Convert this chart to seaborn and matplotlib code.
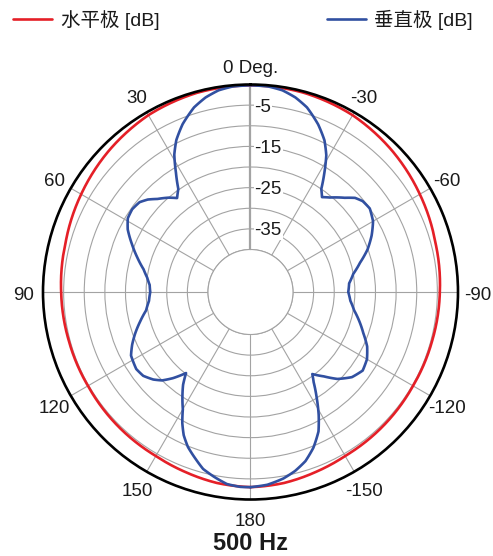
import numpy as np
import matplotlib
matplotlib.use("Agg")
import matplotlib.pyplot as plt
import matplotlib.transforms as mtransforms
from matplotlib.lines import Line2D
import seaborn as sns

# Vertical polar pattern (blue). Angles in degrees, measured from 0 Deg. at the top.
# Right half of the chart = negative angles, left half = positive angles.
V_RIGHT_ANG = [0, 5, 9, 13, 17, 22, 26, 29, 32, 34.5, 37, 40, 45, 48, 51, 55, 60, 65, 70,
               75, 80, 85, 90, 95, 100, 105, 110, 115, 120, 125, 130, 135, 139, 143, 145,
               148, 151, 154, 158, 162, 166, 170, 175, 180]
V_RIGHT_DB = [-0.2, -0.3, -0.8, -1.9, -3.5, -6.5, -9.4, -12.4, -16.6, -20.0, -21.5, -20.4,
              -18.0, -16.2, -15.3, -15.0, -16.0, -17.9, -20.1, -22.8, -25.0, -26.3, -26.6,
              -26.0, -24.8, -23.0, -21.2, -19.1, -17.7, -17.1, -18.2, -20.5, -23.2, -25.4,
              -23.6, -20.0, -16.2, -12.7, -9.6, -7.2, -5.6, -4.4, -3.4, -3.0]
V_LEFT_ANG = [0, 5, 9, 13, 17, 22, 26, 29, 32, 35, 38, 41, 45, 48, 51, 55, 59, 63, 68, 73,
              78, 82, 86, 90, 95, 100, 105, 110, 114, 118, 124, 128, 132, 135, 138, 141.5,
              144, 147, 150, 152.5, 155, 158, 162, 165, 169, 173, 177, 180]
V_LEFT_DB = [-0.2, -0.3, -0.8, -1.9, -3.5, -6.4, -9.3, -12.2, -16.2, -19.8, -21.4, -20.0,
             -18.4, -16.8, -15.7, -15.3, -15.6, -16.9, -19.3, -21.6, -23.8, -25.0, -25.8,
             -26.0, -25.6, -24.6, -22.6, -20.5, -18.9, -17.5, -16.9, -17.3, -18.6, -20.0,
             -22.2, -25.2, -22.5, -20.0, -17.5, -14.5, -12.0, -9.8, -7.6, -5.9, -4.6, -3.4,
             -3.0, -3.0]

# Horizontal polar pattern (red), read the same on both sides
H_ANG = [0, 15, 30, 45, 60, 75, 90, 105, 120, 135, 150, 160, 170, 180]
H_DB = [-0.2, -0.3, -0.8, -1.8, -2.9, -3.9, -4.4, -4.7, -4.8, -4.6, -4.4, -3.9, -3.3, -3.0]

RING_DB = [-40, -35, -30, -25, -20, -15, -10, -5, 0]
RING_LABELS = ["-5", "-15", "-25", "-35"]
SPOKE_DEG = [0, 30, 60, 90, 120, 150, 180, 210, 240, 270, 300, 330]
SPOKE_LABELS = ["0 Deg.", "30", "60", "90", "120", "150", "180",
                "-150", "-120", "-90", "-60", "-30"]

LEGEND_LABELS = ["水平极 [dB]", "垂直极 [dB]"]
TITLE = "500 Hz"

RED = "#e51f27"
BLUE = "#3150a1"
GRID = "#a3a3a3"
INK = "#1a1a1a"


def full_circle(right_ang, right_db, left_ang, left_db):
    ang = [-a for a in right_ang[::-1]] + list(left_ang[1:])
    db = list(right_db[::-1]) + list(left_db[1:])
    return np.deg2rad(ang), np.array(db)


def main():
    sns.set_style("white")
    plt.rcParams["font.family"] = ["Liberation Sans", "Noto Sans CJK SC", "DejaVu Sans"]

    fig = plt.figure(figsize=(4.93, 5.56), dpi=100)
    ax = fig.add_axes([0.0872, 0.1016, 0.8418, 0.7464], projection="polar")
    ax.set_theta_zero_location("N")
    ax.set_theta_direction(1)
    ax.set_ylim(-40, 0)
    ax.set_rorigin(-50.3)

    ax.set_xticks(np.deg2rad(SPOKE_DEG))
    ax.set_xticklabels([])
    ax.set_yticks(RING_DB)
    ax.set_yticklabels([])
    ax.grid(True, color=GRID, lw=0.8)
    ax.xaxis.get_gridlines()[0].set_linewidth(1.6)
    ax.spines["polar"].set_color("black")
    ax.spines["polar"].set_linewidth(1.9)
    ax.spines["inner"].set_color(GRID)
    ax.spines["inner"].set_linewidth(0.8)

    # data
    h_theta, h_db = full_circle(H_ANG, H_DB, H_ANG, H_DB)
    v_theta, v_db = full_circle(V_RIGHT_ANG, V_RIGHT_DB, V_LEFT_ANG, V_LEFT_DB)
    sns.lineplot(x=h_theta, y=h_db, ax=ax, sort=False, estimator=None,
                 color=RED, lw=1.9, clip_on=False)
    sns.lineplot(x=v_theta, y=v_db, ax=ax, sort=False, estimator=None,
                 color=BLUE, lw=1.9, clip_on=False)
    # let the polar transform draw curved segments between the read points
    for line in ax.lines:
        line.get_path()._interpolation_steps = 30

    # ring labels on the 0 Deg. axis
    off = mtransforms.offset_copy(ax.transData, fig=fig, x=4, y=-2, units="dots")
    for lab in RING_LABELS:
        ax.text(0, float(lab), lab, transform=off, ha="left", va="center",
                fontsize=13.5, color=INK,
                bbox=dict(boxstyle="square,pad=0.05", fc="white", ec="none"))

    # angle labels around the outside
    off_t = mtransforms.offset_copy(ax.transData, fig=fig, x=0, y=-3, units="dots")
    for deg, lab in zip(SPOKE_DEG, SPOKE_LABELS):
        ax.text(np.deg2rad(deg), 4.7, lab, transform=off_t, ha="center", va="center",
                fontsize=13.5, color=INK, clip_on=False)

    handles = [Line2D([], [], color=RED, lw=1.9), Line2D([], [], color=BLUE, lw=1.9)]
    fig.legend(handles, LEGEND_LABELS, loc="center", bbox_to_anchor=(0.493, 1 - 20 / 556),
               ncol=2, frameon=False, handlelength=2.0, handletextpad=0.45,
               columnspacing=8.6, fontsize=14, labelcolor=INK)

    fig.text(0.508, 1 - 543 / 556, TITLE, ha="center", va="center",
             fontsize=17, fontweight="bold", color=INK)

    fig.savefig("out.png", dpi=100)
    plt.close(fig)


if __name__ == "__main__":
    main()
